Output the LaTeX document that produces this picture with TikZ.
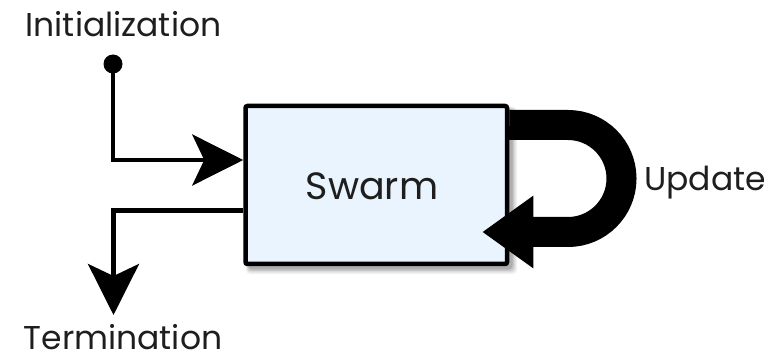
\documentclass[tikz,border=0pt]{standalone}
\usepackage{fontspec}
\setmainfont{Poppins}
\usetikzlibrary{arrows.meta,calc}
\definecolor{boxfill}{HTML}{EAF4FE}
\definecolor{ink}{HTML}{1E1E1E}
\tikzset{
  label text/.style={inner sep=0pt, anchor=base, text depth=0pt, text=ink, font=\fontsize{33}{36}\selectfont},
  flow/.style={line width=4.5pt, -{Stealth[length=51pt, width=51pt, inset=12pt]}},
  loopflow/.style={line width=30pt, -{Triangle[length=51pt, width=69pt]}},
  swarmbox/.style={draw, line width=4.5pt, rounded corners=2pt, fill=boxfill,
    minimum width=261.5pt, minimum height=158pt, inner sep=0pt},
}
\begin{document}
\begin{tikzpicture}[x=1pt,y=-1pt]
  \useasboundingbox (0,0) rectangle (782,358);

  % soft shadow under the swarm box
  \foreach \s/\o in {6/0.06,4.5/0.08,3/0.1,1.5/0.12}{
    \fill[black, opacity=\o, rounded corners=4pt]
      (246+3-\s/2,107+3-\s/2) rectangle (508+3+\s,265+3+\s);
  }

  \node[swarmbox] (swarm) at (376.25,185) {};
  \node[text=ink, font=\fontsize{38}{42}\selectfont, inner sep=0pt, anchor=base] (swarmtext) at (372,200) {Swarm};

  % labels
  \node[label text] (init) at (123.5,37) {Initialization};
  \node[label text] (term) at (123,349) {Termination};
  \node[label text] (upd) at (705,191) {Update};

  % start dot and entry connector
  \node[circle, fill=black, minimum size=19pt, inner sep=0pt] (start) at (113,64) {};
  \draw[flow] (start.center) |- ([yshift=25pt]swarm.west);

  % exit connector
  \coordinate (endtip) at (113.5,315);
  \draw[flow] ([yshift=-25.5pt]swarm.west) -| (endtip);

  % update loop
  \coordinate (loopstart) at ([yshift=-21pt]swarm.north east);
  \coordinate (looptip) at ($(swarm.south east)+(-27,-34.25)$);
  \draw[loopflow] (loopstart) -- (568,125) arc[start angle=90, end angle=-90, radius=53.5pt] -- (looptip);
\end{tikzpicture}
\end{document}
